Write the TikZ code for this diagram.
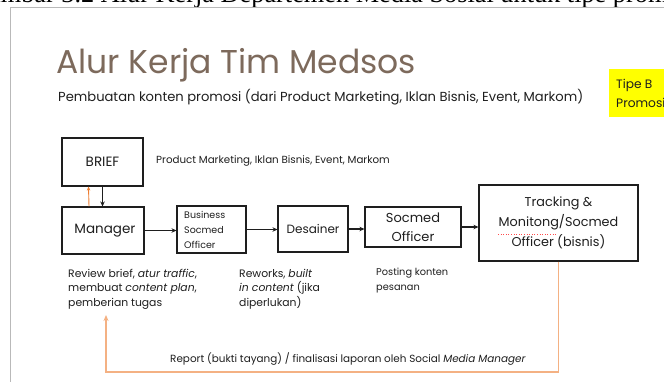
\documentclass[tikz,border=0pt]{standalone}
\usepackage{fontspec}
\setmainfont{Poppins}
\newfontfamily\capfont{Liberation Serif}
\usetikzlibrary{arrows.meta}

\definecolor{titlebrown}{RGB}{125,106,92}
\definecolor{ink}{RGB}{30,30,30}
\definecolor{slideframe}{RGB}{185,185,185}
\definecolor{accent}{RGB}{237,125,49}
\definecolor{loopline}{RGB}{244,177,131}
\definecolor{marker}{RGB}{255,255,0}

\tikzset{
  stagebox/.style={draw=ink, line width=1.1pt, inner sep=0pt, text=ink, align=center},
  flow/.style={draw=ink, line width=1.1pt, -{Stealth[length=5pt,width=4.5pt]}},
  back/.style={draw=accent, line width=0.9pt, -{Stealth[length=4pt,width=3.5pt]}},
  report/.style={draw=loopline, line width=1.6pt, -{Stealth[length=6pt,width=5pt]}},
  note/.style={text=ink, inner sep=0pt, anchor=base west, align=left},
}

\begin{document}
\begin{tikzpicture}[x=1pt, y=-1pt]
  \useasboundingbox (0,0) rectangle (664,381);
  \clip (0,0) rectangle (664,381);

  % caption of the page above the slide
  \node[anchor=base west, inner sep=0pt, text=black,
        font=\capfont\fontsize{26.3}{30}\selectfont] (caption) at (-30,2.5)
    {Gambar 3.2 Alur Kerja Departemen Media Sosial untuk tipe promosi};

  % slide frame
  \draw[draw=slideframe, line width=1pt] (10.5,400) -- (10.5,7.5) -- (680,7.5);

  % heading
  \node[anchor=base west, inner sep=0pt, text=titlebrown,
        font=\fontsize{33}{38}\selectfont] (title) at (56,73) {Alur Kerja Tim Medsos};
  \node[anchor=base west, inner sep=0pt, text=ink,
        font=\fontsize{13.1}{16}\selectfont] (subtitle) at (58,101)
    {Pembuatan konten promosi (dari Product Marketing, Iklan Bisnis, Event, Markom)};

  % type tag
  \node[fill=marker, minimum width=60, minimum height=48, inner sep=0pt] (tag) at (639,93) {};
  \node[note, font=\fontsize{12.2}{19}\selectfont] (tagtext) at (616,107) {Tipe B\\Promosi};

  % stages
  \node[stagebox, minimum width=81, minimum height=48, font=\fontsize{13.5}{16}\selectfont]
    (brief) at (102.5,162) {BRIEF};
  \node[stagebox, minimum width=82, minimum height=47, font=\fontsize{13.5}{16}\selectfont]
    (manager) at (103,230.5) {\hspace{4pt}Manager};
  \node[stagebox, minimum width=69, minimum height=47] (bso) at (211.5,229.5) {};
  \node[note, font=\fontsize{9.5}{15}\selectfont] (bsotext) at (184,248)
    {Business\\Socmed\\Officer};
  \node[stagebox, minimum width=70, minimum height=46, font=\fontsize{12}{15}\selectfont]
    (desainer) at (313,229) {Desainer};
  \node[stagebox, minimum width=96, minimum height=40, font=\fontsize{13}{19}\selectfont]
    (socmed) at (413,227) {Socmed\\Officer};
  \node[stagebox, minimum width=159, minimum height=76, font=\fontsize{12.8}{20}\selectfont]
    (tracking) at (558.5,223) {Tracking \&\\Monitong/Socmed\\Officer (bisnis)};

  % spelling mark under the typo
  \draw[red!70, line width=0.6pt, dotted] (498,234) -- (557,234);

  % flow between stages
  \draw[flow] (brief.south) -- (manager.north -| brief.south);
  \draw[back] ([xshift=-14pt]manager.north) -- ([xshift=-14pt]brief.south);
  \draw[flow] (manager.east) -- (bso.west |- manager.east);
  \draw[flow] (bso.east) -- (desainer.west |- bso.east);
  \draw[flow] (desainer.east) -- (socmed.west |- desainer.east);
  \draw[flow] (socmed.east) -- (tracking.west |- socmed.east);

  % reporting loop back to the manager
  \coordinate (fbcorner) at (106,372);
  \coordinate (fbtip) at (106,315);
  \draw[report] (tracking.south) |- (fbcorner) -- (fbtip);

  % notes
  \node[note, font=\fontsize{10.3}{12}\selectfont] (sources) at (156,163)
    {Product Marketing, Iklan Bisnis, Event, Markom};
  \node[note, font=\fontsize{10.8}{14.5}\selectfont] (mgrnote) at (68,306)
    {Review brief, \textit{atur traffic},\\membuat \textit{content plan},\\pemberian tugas};
  \node[note, font=\fontsize{10.8}{14.5}\selectfont] (desnote) at (239,306)
    {Reworks, \textit{built}\\\textit{in content} (jika\\diperlukan)};
  \node[note, font=\fontsize{9.8}{15}\selectfont] (socnote) at (376,290)
    {Posting konten\\pesanan};
  \node[note, font=\fontsize{10.4}{12}\selectfont] (reportnote) at (170,362)
    {Report (bukti tayang) / finalisasi laporan oleh Social \textit{Media Manager}};
\end{tikzpicture}
\end{document}
